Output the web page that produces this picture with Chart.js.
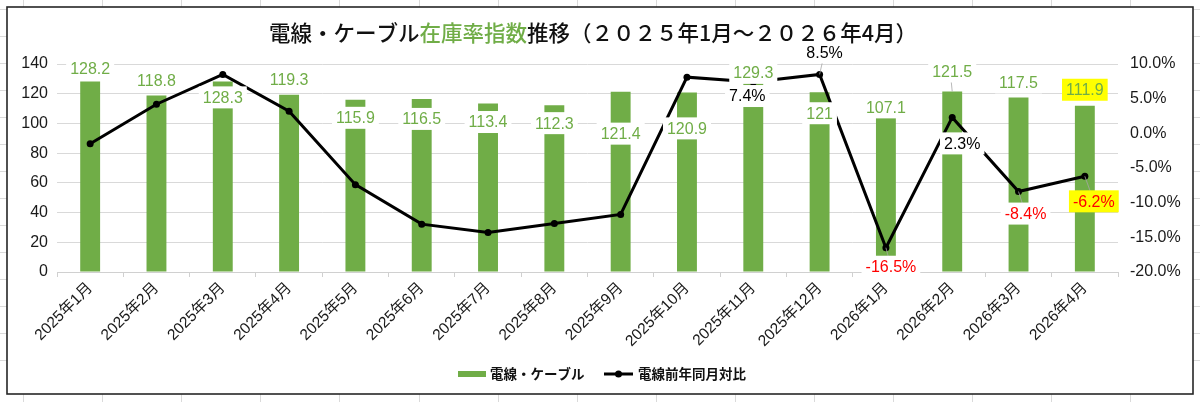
<!DOCTYPE html>
<html>
<head>
<meta charset="utf-8">
<script src="https://cdn.jsdelivr.net/npm/chart.js@4/dist/chart.umd.min.js"></script>
<style>
  html, body { margin: 0; padding: 0; }
  body {
    width: 1200px; height: 402px; overflow: hidden;
    background-color: #fff;
    background-image:
      repeating-linear-gradient(to right, transparent 0 78.1px, #dadada 78.1px 79.1px),
      repeating-linear-gradient(to bottom, transparent 0 26px, #dadada 26px 27px);
    background-position: -55px -17px;
  }
  #wrap { position: relative; width: 1200px; height: 402px; }
</style>
</head>
<body>
<div id="wrap"><canvas id="c"></canvas></div>
<script>
// ---- data ----
const categories = ['2025年1月','2025年2月','2025年3月','2025年4月','2025年5月','2025年6月','2025年7月','2025年8月',
                    '2025年9月','2025年10月','2025年11月','2025年12月','2026年1月','2026年2月','2026年3月','2026年4月'];
const inventoryIndex = [128.2,118.8,128.3,119.3,115.9,116.5,113.4,112.3,121.4,120.9,129.3,121,107.1,121.5,117.5,111.9];
const yoyChange = [-1.5,4.2,8.5,3.2,-7.4,-13.1,-14.3,-13.0,-11.7,8.1,7.4,8.5,-16.5,2.3,-8.4,-6.2];
const leftTicks = { min: 0, max: 140, step: 20 };
const rightTicks = { min: -20, max: 10, step: 5 };

// ---- label placement (styling only) ----
const barLabelDy = [-13,-15,16,-15,18,20,18.5,18,42,36,-7,21,-5.5,-20,-15,-16];
const barLabelHighlight = [false,false,false,false,false,false,false,false,false,false,false,false,false,false,false,true];
const barLabelLeader = [false,false,false,false,false,false,false,false,false,false,false,false,false,true,false,false];
const lineLabelShown = [false,false,false,false,false,false,false,false,false,false,true,true,true,true,true,true];
const lineLabelOffset = [null,null,null,null,null,null,null,null,null,null,[-6,14],[5,-22],[5,19],[10,26],[7,22],[9,25]];
const lineLabelColor = [null,null,null,null,null,null,null,null,null,null,'#000','#000','#ff0000','#000','#ff0000','#ff0000'];
const lineLabelHighlight = [false,false,false,false,false,false,false,false,false,false,false,false,false,false,false,true];
const lineLabelLeader = [false,false,false,false,false,false,false,false,false,false,false,true,true,false,true,true];

const GREEN = '#70AD47';
const NUMFONT = '"Liberation Sans", Arial, "Noto Sans CJK JP", sans-serif';
const JPFONT = '"Noto Sans CJK JP", "Noto Sans", sans-serif';

const framePlugin = {
  id: 'frame',
  beforeDraw(chart) {
    const ctx = chart.ctx;
    ctx.save();
    ctx.fillStyle = '#ffffff';
    ctx.fillRect(7, 7, 1186, 387);
    ctx.strokeStyle = '#262626';
    ctx.lineWidth = 1.6;
    ctx.strokeRect(7, 7, 1186, 387);
    ctx.restore();
  },
  afterDraw(chart) {
    const ctx = chart.ctx;
    ctx.save();
    // title (multi-colour)
    const parts = [
      ['電線・ケーブル', '#111'],
      ['在庫率指数', GREEN],
      ['推移（２０２５年1月～２０２６年4月）', '#111']
    ];
    ctx.font = '500 21.5px ' + JPFONT;
    ctx.textBaseline = 'middle';
    ctx.textAlign = 'left';
    let total = 0;
    parts.forEach(p => total += ctx.measureText(p[0]).width);
    let x = 593 - total / 2;
    parts.forEach(p => {
      ctx.fillStyle = p[1];
      ctx.fillText(p[0], x, 33);
      x += ctx.measureText(p[0]).width;
    });
    // legend
    const ly = 374;
    ctx.font = 'bold 13.5px ' + JPFONT;
    ctx.fillStyle = GREEN;
    ctx.fillRect(458, ly - 3, 28, 6);
    ctx.fillStyle = '#111';
    ctx.fillText(chart.data.datasets[0].label, 490, ly);
    ctx.strokeStyle = '#000';
    ctx.lineWidth = 3;
    ctx.beginPath(); ctx.moveTo(604, ly); ctx.lineTo(633, ly); ctx.stroke();
    ctx.beginPath(); ctx.arc(618.5, ly, 3.5, 0, Math.PI * 2); ctx.fillStyle = '#000'; ctx.fill();
    ctx.fillStyle = '#111';
    ctx.fillText(chart.data.datasets[1].label, 638, ly);
    ctx.restore();
  }
};

function drawBox(ctx, text, cx, cy, color, highlight) {
  ctx.font = '16px ' + NUMFONT;
  const w = ctx.measureText(text).width;
  const bw = w + 8, bh = 22;
  ctx.fillStyle = highlight ? '#ffff00' : '#ffffff';
  ctx.fillRect(cx - bw / 2, cy - bh / 2, bw, bh);
  ctx.fillStyle = color;
  ctx.textAlign = 'center';
  ctx.textBaseline = 'middle';
  ctx.fillText(text, cx, cy + 1);
}

const labelPlugin = {
  id: 'labels',
  afterDatasetsDraw(chart) {
    const ctx = chart.ctx;
    const barMeta = chart.getDatasetMeta(0);
    const lineMeta = chart.getDatasetMeta(1);
    ctx.save();
    // leader lines first
    ctx.strokeStyle = '#a6a6a6';
    ctx.lineWidth = 0.8;
    barMeta.data.forEach((el, i) => {
      if (!barLabelLeader[i]) return;
      ctx.beginPath(); ctx.moveTo(el.x, el.y); ctx.lineTo(el.x - 2, el.y + barLabelDy[i]); ctx.stroke();
    });
    lineMeta.data.forEach((el, i) => {
      if (!lineLabelShown[i] || !lineLabelLeader[i]) return;
      const o = lineLabelOffset[i];
      ctx.beginPath(); ctx.moveTo(el.x, el.y); ctx.lineTo(el.x + o[0], el.y + o[1]); ctx.stroke();
    });
    // bar labels
    barMeta.data.forEach((el, i) => {
      drawBox(ctx, String(inventoryIndex[i]), el.x, el.y + barLabelDy[i], GREEN, barLabelHighlight[i]);
    });
    // line labels
    lineMeta.data.forEach((el, i) => {
      if (!lineLabelShown[i]) return;
      const o = lineLabelOffset[i];
      drawBox(ctx, yoyChange[i].toFixed(1) + '%', el.x + o[0], el.y + o[1], lineLabelColor[i], lineLabelHighlight[i]);
    });
    ctx.restore();
  }
};

new Chart(document.getElementById('c'), {
  data: {
    labels: categories,
    datasets: [
      {
        type: 'bar',
        label: '電線・ケーブル',
        data: inventoryIndex,
        backgroundColor: GREEN,
        barPercentage: 0.3,
        categoryPercentage: 1,
        yAxisID: 'y',
        order: 2
      },
      {
        type: 'line',
        label: '電線前年同月対比',
        data: yoyChange,
        borderColor: '#000',
        backgroundColor: '#000',
        borderWidth: 3,
        pointRadius: 3.5,
        pointBackgroundColor: '#000',
        pointBorderWidth: 0,
        tension: 0,
        yAxisID: 'y1',
        order: 1
      }
    ]
  },
  options: {
    responsive: true,
    maintainAspectRatio: false,
    animation: false,
    layout: { padding: { left: 7, right: 7, top: 64, bottom: 8 } },
    plugins: {
      legend: { display: false },
      title: { display: false },
      tooltip: { enabled: false }
    },
    scales: {
      x: {
        offset: true,
        grid: { display: true, drawOnChartArea: false, drawTicks: true, tickLength: 5, color: '#d0d0d0', offset: true },
        border: { display: true, color: '#d0d0d0', width: 1 },
        ticks: {
          minRotation: 45, maxRotation: 45, autoSkip: false, padding: 2,
          color: '#1a1a1a', font: { size: 15.5, family: NUMFONT }
        },
        afterFit(s) { s.height = 122; }
      },
      y: {
        position: 'left',
        min: leftTicks.min, max: leftTicks.max,
        grid: { color: '#d9d9d9', drawTicks: false },
        border: { display: false },
        ticks: { stepSize: leftTicks.step, padding: 9, color: '#1a1a1a', font: { size: 16, family: NUMFONT } },
        afterFit(s) { s.width = 50; }
      },
      y1: {
        position: 'right',
        min: rightTicks.min, max: rightTicks.max,
        grid: { drawOnChartArea: false, drawTicks: false },
        border: { display: false },
        ticks: {
          stepSize: rightTicks.step, padding: 12, color: '#1a1a1a', font: { size: 16, family: NUMFONT },
          callback: v => v.toFixed(1) + '%'
        },
        afterFit(s) { s.width = 75; }
      }
    }
  },
  plugins: [framePlugin, labelPlugin]
});
</script>
</body>
</html>
